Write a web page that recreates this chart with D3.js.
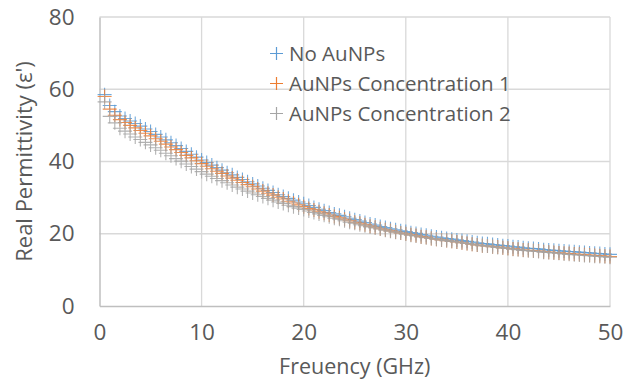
<!DOCTYPE html>
<html><head><meta charset="utf-8">
<script src="https://cdn.jsdelivr.net/npm/d3@7"></script>
<style>body{margin:0;background:#fff;} svg{display:block;}</style>
</head><body>
<svg id="c" width="637" height="382"></svg>
<script>
const freqs = [0.5,1,1.5,2,2.5,3,3.5,4,4.5,5,5.5,6,6.5,7,7.5,8,8.5,9,9.5,10,
10.5,11,11.5,12,12.5,13,13.5,14,14.5,15,15.5,16,16.5,17,17.5,18,18.5,19,19.5,20,
20.5,21,21.5,22,22.5,23,23.5,24,24.5,25,25.5,26,26.5,27,27.5,28,28.5,29,29.5,30,
30.5,31,31.5,32,32.5,33,33.5,34,34.5,35,35.5,36,36.5,37,37.5,38,38.5,39,39.5,40,
40.5,41,41.5,42,42.5,43,43.5,44,44.5,45,45.5,46,46.5,47,47.5,48,48.5,49,49.5,50];
const noAuNPs = [58.5,55.5,53.8,52.6,51.9,51.2,50.5,49.8,49.0,48.3,47.5,46.8,46.0,45.2,44.4,43.6,42.8,42.0,41.2,40.4,
39.7,39.0,38.3,37.6,36.9,36.3,35.6,35.0,34.4,33.8,33.2,32.6,32.0,31.4,30.8,30.3,29.8,29.3,28.8,28.3,
27.8,27.3,26.8,26.4,25.9,25.5,25.1,24.7,24.3,23.9,23.5,23.1,22.7,22.4,22.0,21.7,21.4,21.1,20.8,20.6,
20.3,20.1,19.8,19.6,19.3,19.1,18.9,18.7,18.5,18.3,18.1,17.9,17.7,17.5,17.3,17.2,17.0,16.9,16.7,16.6,
16.4,16.3,16.1,16.0,15.9,15.8,15.6,15.5,15.4,15.3,15.2,15.1,15.0,14.9,14.8,14.7,14.6,14.5,14.4,14.3];
const conc1 = [58.0,54.5,52.8,51.6,50.8,50.0,49.3,48.6,47.8,47.1,46.3,45.6,44.8,44.0,43.3,42.5,41.7,41.0,40.2,39.4,
38.7,38.0,37.3,36.7,36.0,35.4,34.8,34.2,33.6,33.0,32.4,31.8,31.2,30.7,30.1,29.6,29.0,28.5,28.0,27.5,
27.0,26.6,26.1,25.7,25.2,24.8,24.4,24.0,23.6,23.2,22.9,22.5,22.1,21.8,21.4,21.1,20.8,20.5,20.2,20.0,
19.7,19.5,19.2,19.0,18.7,18.5,18.3,18.1,17.9,17.7,17.5,17.3,17.1,16.9,16.7,16.6,16.4,16.3,16.1,16.0,
15.8,15.7,15.5,15.4,15.3,15.2,15.0,14.9,14.8,14.7,14.6,14.5,14.4,14.3,14.2,14.1,14.0,13.9,13.8,13.7];
const conc2 = [56.5,52.5,50.7,49.2,48.4,47.6,46.8,46.1,45.3,44.6,43.8,43.1,42.3,41.6,40.8,40.1,39.3,38.6,37.9,37.2,
36.5,35.9,35.3,34.7,34.1,33.5,32.9,32.4,31.8,31.3,30.8,30.3,29.8,29.3,28.8,28.4,27.9,27.5,27.1,26.7,
26.3,25.9,25.5,25.1,24.7,24.3,24.0,23.6,23.2,22.9,22.5,22.2,21.9,21.6,21.3,21.0,20.7,20.4,20.2,19.9,
19.6,19.4,19.1,18.9,18.7,18.5,18.3,18.1,17.9,17.7,17.5,17.3,17.1,16.9,16.7,16.6,16.4,16.2,16.1,15.9,
15.7,15.6,15.4,15.3,15.2,15.1,14.9,14.8,14.7,14.6,14.4,14.3,14.2,14.1,14.0,13.9,13.8,13.7,13.6,13.5];
const seriesNames = ["No AuNPs","AuNPs Concentration 1","AuNPs Concentration 2"];
const seriesColors = ["#5B9BD5","#ED7D31","#A5A5A5"];
const xTicks = [0,10,20,30,40,50];
const yTicks = [0,20,40,60,80];
const xTitle = "Freuency (GHz)";
const yTitle = "Real Permittivity (ε')";

const svg = d3.select("#c");
const x = d3.scaleLinear().domain([0,50]).range([99.5,610]);
const y = d3.scaleLinear().domain([0,80]).range([306,17]);
const font = "'Open Sans', sans-serif";
const txt = "#595959";

// gridlines
svg.append("g").selectAll("line").data(yTicks.filter(d=>d>0)).join("line")
  .attr("x1",x(0)).attr("x2",x(50)).attr("y1",d=>y(d)).attr("y2",d=>y(d))
  .attr("stroke","#d9d9d9").attr("stroke-width",1.3);
svg.append("g").selectAll("line").data(xTicks.filter(d=>d>0)).join("line")
  .attr("y1",y(0)).attr("y2",y(80)).attr("x1",d=>x(d)).attr("x2",d=>x(d))
  .attr("stroke","#d9d9d9").attr("stroke-width",1.3);

// axes
const xAxis = svg.append("g").attr("transform",`translate(0,${y(0)})`)
  .call(d3.axisBottom(x).tickValues(xTicks).tickSize(0).tickPadding(18));
const yAxis = svg.append("g").attr("transform",`translate(${x(0)},0)`)
  .call(d3.axisLeft(y).tickValues(yTicks).tickSize(0).tickPadding(25));
[xAxis,yAxis].forEach(a=>{
  a.select(".domain").attr("stroke","#bfbfbf").attr("stroke-width",1.5);
  a.selectAll("text").attr("fill",txt).style("font-family",font).style("font-size","22.5px");
});
xAxis.selectAll("text").attr("dy","0.71em");

// series
const data = [noAuNPs,conc1,conc2];
const armX = 7, armY = 7;
data.forEach((vals,i)=>{
  const g = svg.append("g").attr("stroke",seriesColors[i]).attr("stroke-width",1.1).attr("stroke-opacity",0.85);
  const pts = freqs.map((f,j)=>[f,vals[j]]);
  g.selectAll("path").data(pts).join("path")
    .attr("d",d=>`M${x(d[0])-armX},${y(d[1])}H${x(d[0])+armX}M${x(d[0])},${y(d[1])-armY}V${y(d[1])+armY}`);
});

// legend
const leg = svg.append("g");
seriesNames.forEach((n,i)=>{
  const cy = 53.5 + i*30;
  leg.append("path").attr("d",`M${270},${cy}H${283}M${276.5},${cy-6.5}V${cy+6.5}`)
    .attr("stroke",seriesColors[i]).attr("stroke-width",1.2);
  leg.append("text").attr("x",289).attr("y",cy).attr("dy","0.36em")
    .attr("fill",txt).style("font-family",font).style("font-size","20.5px").text(n);
});

// titles
svg.append("text").attr("x",(x(0)+x(50))/2).attr("y",366).attr("dy","0.36em")
  .attr("text-anchor","middle").attr("fill",txt).style("font-family",font).style("font-size","21.5px").text(xTitle);
svg.append("text").attr("transform",`translate(24,${(y(0)+y(80))/2}) rotate(-90)`).attr("dy","0.36em")
  .attr("text-anchor","middle").attr("fill",txt).style("font-family",font).style("font-size","22px").text(yTitle);
</script>
</body></html>
